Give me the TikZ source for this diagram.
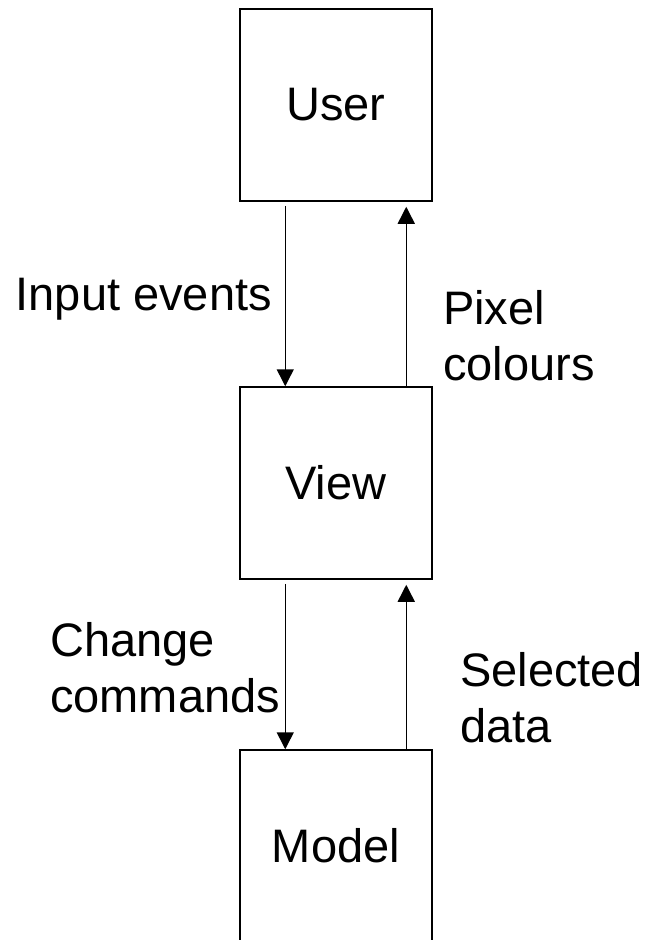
\documentclass[tikz,border=0pt]{standalone}
\usepackage{fontspec}
\setmainfont{Liberation Sans}
\usetikzlibrary{arrows.meta}
\newcommand\bigfont{\fontsize{47}{56}\selectfont}
\begin{document}
\begin{tikzpicture}[x=1pt,y=-1pt,
  box/.style={draw,line width=1.5pt,minimum width=192pt,minimum height=192pt,
    inner sep=0pt,font=\bigfont},
  flow/.style={line width=1.5pt,-{Triangle[width=17pt,length=17pt]}},
  lbl/.style={inner sep=0pt,font=\bigfont,align=left}]
  \clip (0,0) rectangle (653,940);

  % the three stacked components
  \node[box] (user)  at (336,105) {User};
  \node[box] (view)  at (336,483) {View};
  \node[box] (model) at (336,846) {Model};

  % user <-> view
  \draw[flow] ([xshift=46pt,yshift=-4pt]user.south west) -- ([xshift=46pt]view.north west);
  \draw[flow] ([xshift=167pt]view.north west) -- ([xshift=167pt,yshift=-5pt]user.south west);

  % view <-> model
  \draw[flow] ([xshift=46pt,yshift=-4pt]view.south west) -- ([xshift=46pt]model.north west);
  \draw[flow] ([xshift=167pt]model.north west) -- ([xshift=167pt,yshift=-5pt]view.south west);

  % flow labels (base anchor sits on the last line)
  \node[lbl,anchor=base east] (inp) at (272,310) {Input events};
  \node[lbl,anchor=base west] (pix) at (443,380) {Pixel\\colours};
  \node[lbl,anchor=base west] (chg) at (50,712) {Change\\commands};
  \node[lbl,anchor=base west] (sel) at (460,742) {Selected\\data};
\end{tikzpicture}
\end{document}
